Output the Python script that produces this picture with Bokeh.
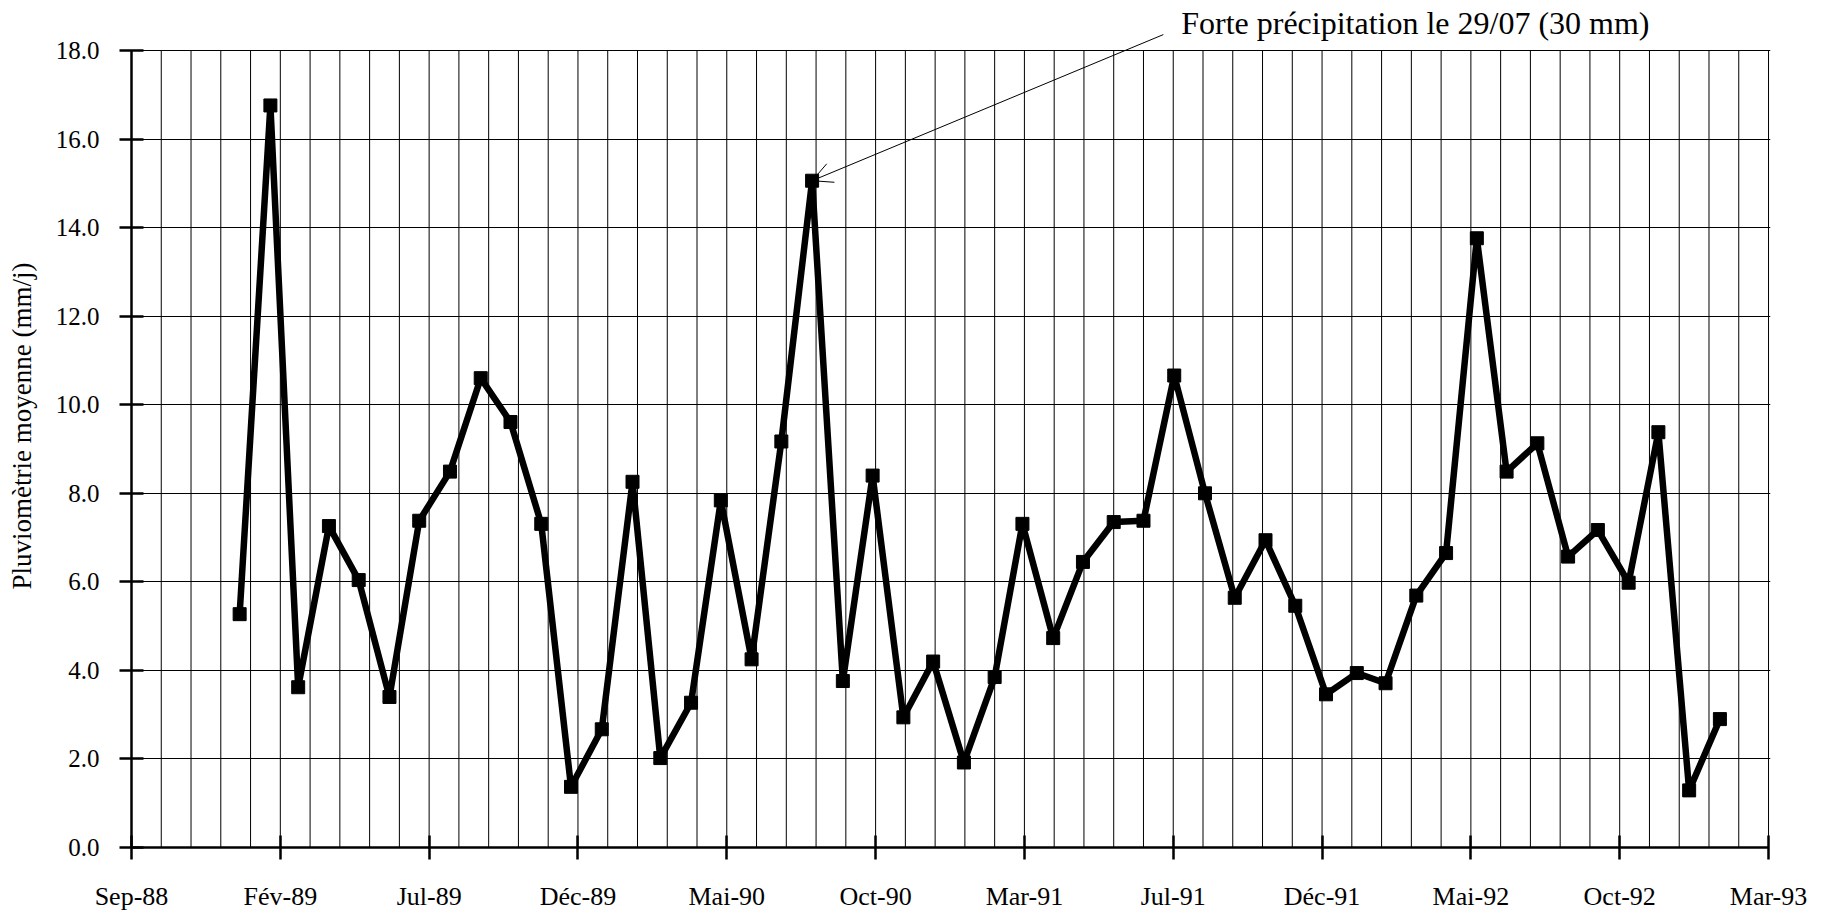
import pandas as pd
from bokeh.plotting import figure
from bokeh.models import (FixedTicker, Range1d, Arrow, OpenHead, Label,
                          ColumnDataSource, PrintfTickFormatter)
from bokeh.embed import file_html
from bokeh.resources import INLINE

# ---------------- data ----------------
months = [
    "1988-12",
    "1989-01", "1989-02", "1989-03", "1989-04", "1989-05", "1989-06",
    "1989-07", "1989-08", "1989-09", "1989-10", "1989-11", "1989-12",
    "1990-01", "1990-02", "1990-03", "1990-04", "1990-05", "1990-06",
    "1990-07", "1990-08", "1990-09", "1990-10", "1990-11", "1990-12",
    "1991-01", "1991-02", "1991-03", "1991-04", "1991-05", "1991-06",
    "1991-07", "1991-08", "1991-09", "1991-10", "1991-11", "1991-12",
    "1992-01", "1992-02", "1992-03", "1992-04", "1992-05", "1992-06",
    "1992-07", "1992-08", "1992-09", "1992-10", "1992-11", "1992-12",
    "1993-01",
]
pluvio = [
    5.27,
    16.76, 3.62, 7.26, 6.04, 3.40, 7.38,
    8.49, 10.60, 9.61, 7.31, 1.37, 2.67,
    8.26, 2.02, 3.27, 7.84, 4.25, 9.17,
    15.06, 3.76, 8.40, 2.94, 4.20, 1.92,
    3.85, 7.31, 4.73, 6.45, 7.35, 7.38,
    10.66, 8.00, 5.64, 6.94, 5.46, 3.46,
    3.94, 3.71, 5.69, 6.65, 13.76, 8.49,
    9.13, 6.57, 7.17, 5.98, 9.38, 1.29,
    2.90,
]
tick_labels = ["Sep-88", "Fév-89", "Jul-89", "Déc-89", "Mai-90", "Oct-90",
               "Mar-91", "Jul-91", "Déc-91", "Mai-92", "Oct-92", "Mar-93"]
y_ticks = [0, 2, 4, 6, 8, 10, 12, 14, 16, 18]

annotation_text = "Forte précipitation le 29/07 (30 mm)"
annotated_month = "1990-07"

# ---------------- axis geometry (days since the first label) ----------------
origin = pd.Timestamp("1988-09-13")
major_step = 150  # days between two labelled ticks
x_days = [(pd.Period(m, freq="M").end_time.normalize() - origin).days for m in months]
major = [i * major_step for i in range(len(tick_labels))]
minor = [i * major_step / 5 for i in range(5 * (len(tick_labels) - 1) + 1)]
x_end = major[-1]
y_max = y_ticks[-1]

FONT = "Liberation Serif"

p = figure(frame_width=1639, frame_height=843,
           output_backend="svg", toolbar_location=None,
           x_range=Range1d(0, x_end + 2), y_range=Range1d(0, 19.04),
           min_border_left=131, min_border_top=4, min_border_right=40,
           min_border_bottom=30)
p.background_fill_color = "white"
p.border_fill_color = "white"
p.outline_line_color = None

# vertical grid, limited to the 0 – 18 band
p.segment(x0=minor, y0=[0] * len(minor), x1=minor, y1=[y_max] * len(minor),
          line_color="black", line_width=1)
p.xgrid.grid_line_color = None
p.ygrid.grid_line_color = "black"
p.ygrid.grid_line_width = 1

src = ColumnDataSource(dict(x=x_days, y=pluvio))
p.line("x", "y", source=src, line_color="black", line_width=6.5)
p.scatter("x", "y", source=src, marker="square", size=13,
          fill_color="black", line_color="black")

# x axis
p.xaxis.ticker = FixedTicker(ticks=major)
p.xaxis.major_label_overrides = {t: l for t, l in zip(major, tick_labels)}
p.xaxis.bounds = (0, x_end)
# y axis
p.yaxis.ticker = FixedTicker(ticks=y_ticks)
p.yaxis.formatter = PrintfTickFormatter(format="%.1f")
p.yaxis.axis_label = "Pluviomètrie moyenne (mm/j)"
p.yaxis.bounds = (0, y_max)

for ax in (p.xaxis[0], p.yaxis[0]):
    ax.axis_line_color = "black"
    ax.axis_line_width = 2.5
    ax.major_tick_line_color = "black"
    ax.major_tick_line_width = 2.5
    ax.major_tick_in = 12
    ax.major_tick_out = 12
    ax.minor_tick_in = 0
    ax.minor_tick_out = 0
    ax.major_label_text_font = FONT
    ax.major_label_text_color = "black"
    ax.axis_label_text_font = FONT
    ax.axis_label_text_font_style = "normal"
    ax.axis_label_text_font_size = "27px"
    ax.axis_label_text_color = "black"

p.xaxis.major_label_text_font_size = "26px"
p.xaxis.major_label_standoff = 22
p.yaxis.major_label_text_font_size = "25px"
p.yaxis.major_label_standoff = 20
p.yaxis.axis_label_standoff = 16

# annotation
i_peak = months.index(annotated_month)
p.add_layout(Arrow(end=OpenHead(size=20, line_width=1, line_color="black"),
                   x_start=1040, y_start=18.36,
                   x_end=x_days[i_peak], y_end=pluvio[i_peak],
                   line_width=1, line_color="black"))
p.add_layout(Label(x=1058, y=18.62, text=annotation_text,
                   text_font=FONT, text_font_size="32px",
                   text_baseline="middle", text_color="black"))

open("out.html", "w").write(file_html(p, INLINE))
